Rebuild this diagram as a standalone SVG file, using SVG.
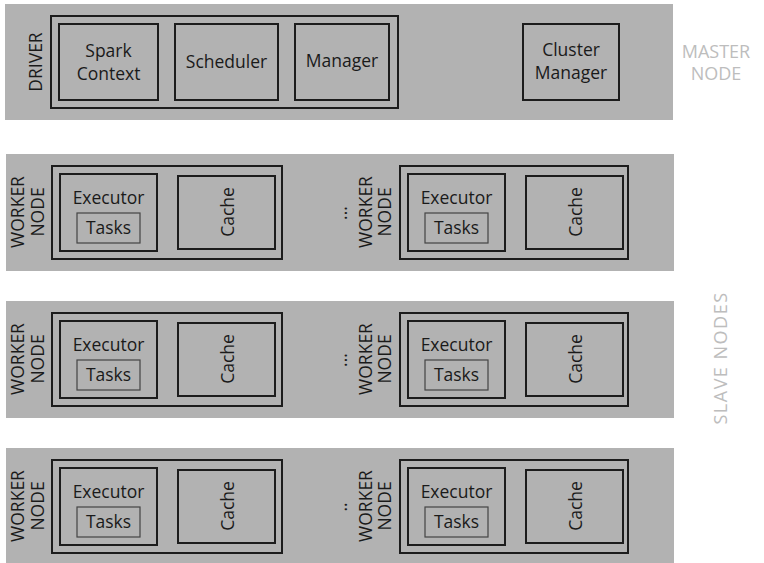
<svg xmlns="http://www.w3.org/2000/svg" width="764" height="563" viewBox="0 0 764 563">
  <style>
    .band { fill: #b2b2b2; }
    .box { fill: none; stroke: #1c1c1c; stroke-width: 2; }
    .inner { fill: none; stroke: #1c1c1c; stroke-width: 2; }
    .task { fill: none; stroke: #444; stroke-width: 1.2; }
    .t { font-family: "Open Sans", "DejaVu Sans", sans-serif; font-size: 17.5px; fill: #1a1a1a; text-anchor: middle; }
    .side { font-family: "Open Sans", "DejaVu Sans", sans-serif; font-size: 18px; fill: #bdbdbd; text-anchor: middle; }
  </style>
  <defs>
    <g id="worker">
      <rect class="inner" x="60" y="8" width="97" height="77"/>
      <text class="t" x="108.5" y="38">Executor</text>
      <rect class="task" x="77" y="47" width="63" height="30"/>
      <text class="t" x="108.5" y="68">Tasks</text>
      <rect class="inner" x="178" y="10" width="97" height="73"/>
      <text class="t" transform="translate(233.5 46) rotate(-90)">Cache</text>
    </g>
  </defs>

  <g id="master-node">
    <rect class="band" x="5" y="4" width="668" height="116"/>
    <text class="t" transform="translate(42 62) rotate(-90)">DRIVER</text>
    <g id="driver">
      <rect class="box" x="51" y="16" width="347" height="92"/>
      <g id="spark-context">
        <rect class="inner" x="59" y="24" width="99" height="76"/>
        <text class="t" x="108.5" y="57">Spark</text>
        <text class="t" x="108.5" y="80">Context</text>
      </g>
      <g id="scheduler">
        <rect class="inner" x="175" y="24" width="103" height="76"/>
        <text class="t" x="226.5" y="68">Scheduler</text>
      </g>
      <g id="manager">
        <rect class="inner" x="295" y="24" width="94" height="76"/>
        <text class="t" x="342" y="67">Manager</text>
      </g>
    </g>
    <g id="cluster-manager">
      <rect class="inner" x="523" y="24" width="96" height="76"/>
      <text class="t" x="571" y="56">Cluster</text>
      <text class="t" x="571" y="79">Manager</text>
    </g>
    <text class="side" x="716" y="58">MASTER</text>
    <text class="side" x="716" y="80">NODE</text>
  </g>

  <g id="row-1" transform="translate(0 0)">
    <rect class="band" x="6" y="154" width="668" height="117"/>
    <g id="worker-1a">
      <text class="t" transform="translate(24 212) rotate(-90)">WORKER</text>
      <text class="t" transform="translate(44 212) rotate(-90)">NODE</text>
      <rect class="box" x="52" y="166" width="230" height="93"/>
      <use href="#worker" x="0" y="166"/>
    </g>
    <text class="t" transform="translate(347 213) rotate(-90)">...</text>
    <g id="worker-1b">
      <text class="t" transform="translate(372 212) rotate(-90)">WORKER</text>
      <text class="t" transform="translate(391 212) rotate(-90)">NODE</text>
      <rect class="box" x="400" y="166" width="228" height="93"/>
      <use href="#worker" x="348" y="166"/>
    </g>
  </g>

  <g id="row-2" transform="translate(0 147)">
    <rect class="band" x="6" y="154" width="668" height="117"/>
    <g id="worker-2a">
      <text class="t" transform="translate(24 212) rotate(-90)">WORKER</text>
      <text class="t" transform="translate(44 212) rotate(-90)">NODE</text>
      <rect class="box" x="52" y="166" width="230" height="93"/>
      <use href="#worker" x="0" y="166"/>
    </g>
    <text class="t" transform="translate(347 213) rotate(-90)">...</text>
    <g id="worker-2b">
      <text class="t" transform="translate(372 212) rotate(-90)">WORKER</text>
      <text class="t" transform="translate(391 212) rotate(-90)">NODE</text>
      <rect class="box" x="400" y="166" width="228" height="93"/>
      <use href="#worker" x="348" y="166"/>
    </g>
  </g>

  <g id="row-3" transform="translate(0 294)">
    <rect class="band" x="6" y="154" width="668" height="117"/>
    <g id="worker-3a">
      <text class="t" transform="translate(24 212) rotate(-90)">WORKER</text>
      <text class="t" transform="translate(44 212) rotate(-90)">NODE</text>
      <rect class="box" x="52" y="166" width="230" height="93"/>
      <use href="#worker" x="0" y="166"/>
    </g>
    <text class="t" transform="translate(347 213) rotate(-90)">..</text>
    <g id="worker-3b">
      <text class="t" transform="translate(372 212) rotate(-90)">WORKER</text>
      <text class="t" transform="translate(391 212) rotate(-90)">NODE</text>
      <rect class="box" x="400" y="166" width="228" height="93"/>
      <use href="#worker" x="348" y="166"/>
    </g>
  </g>

  <text class="side" letter-spacing="1.5" transform="translate(727 358) rotate(-90)">SLAVE NODES</text>
</svg>
